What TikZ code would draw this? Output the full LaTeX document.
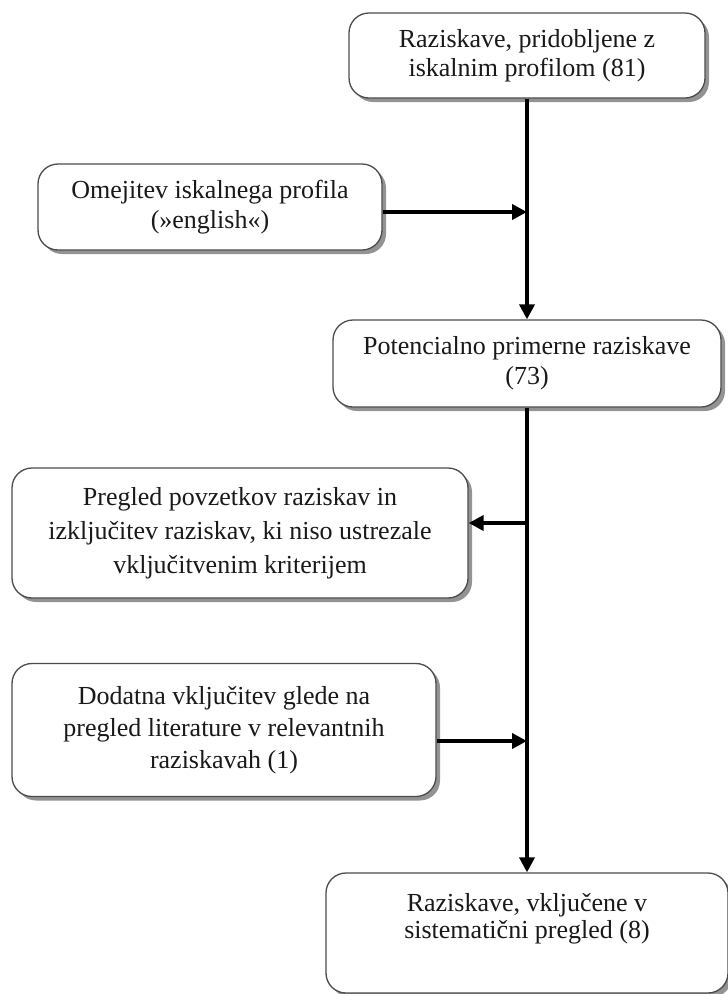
\documentclass[tikz,border=0pt]{standalone}
\usepackage{fontspec}
\setmainfont{Liberation Serif}
\usetikzlibrary{shadows,arrows.meta}
\begin{document}
\begin{tikzpicture}[x=1pt,y=-1pt,
  box/.style={draw=black!70, line width=1.3pt, rounded corners=20pt, fill=white,
    align=center, inner sep=0pt, text=black!90,
    drop shadow={shadow xshift=4pt,shadow yshift=-4pt,fill=black!50,opacity=0.85},
    font=\fontsize{26}{30}\selectfont},
  arr/.style={line width=4pt, -{Triangle[length=15pt,width=15pt]}}]
\useasboundingbox (0,0) rectangle (728,994);
\coordinate (sp) at (527,0);
\node[box, minimum width=356pt, minimum height=85pt, font=\fontsize{26}{29}\selectfont] (b1) at (527,55.5)
  {Raziskave, pridobljene z\\iskalnim profilom (81)};
\node[box, minimum width=344pt, minimum height=86pt] (b2) at (210,207)
  {Omejitev iskalnega profila\\(»english«)};
\node[box, minimum width=388pt, minimum height=87pt] (b3) at (527,363.5)
  {Potencialno primerne raziskave\\(73)};
\node[box, minimum width=456pt, minimum height=130pt, font=\fontsize{26}{34}\selectfont] (b4) at (240,533)
  {Pregled povzetkov raziskav in\\izključitev raziskav, ki niso ustrezale\\vključitvenim kriterijem};
\node[box, minimum width=424pt, minimum height=133pt, font=\fontsize{26}{32}\selectfont] (b5) at (224,730)
  {Dodatna vključitev glede na\\pregled literature v relevantnih\\raziskavah (1)};
\node[box, minimum width=402pt, minimum height=120pt, font=\fontsize{26}{27}\selectfont] (b6) at (527,933)
  {Raziskave, vključene v\\sistematični pregled (8)\\\strut};
\draw[arr] (b1.south) -- (b3.north);
\draw[arr] (b3.south) -- (b6.north);
\draw[arr] ([yshift=-5pt]b2.east) -- ([yshift=-5pt]b2.east -| sp);
\draw[arr] ([yshift=10pt]b4.east -| sp) -- ([yshift=10pt]b4.east);
\draw[arr] ([yshift=-11pt]b5.east) -- ([yshift=-11pt]b5.east -| sp);
\end{tikzpicture}
\end{document}
